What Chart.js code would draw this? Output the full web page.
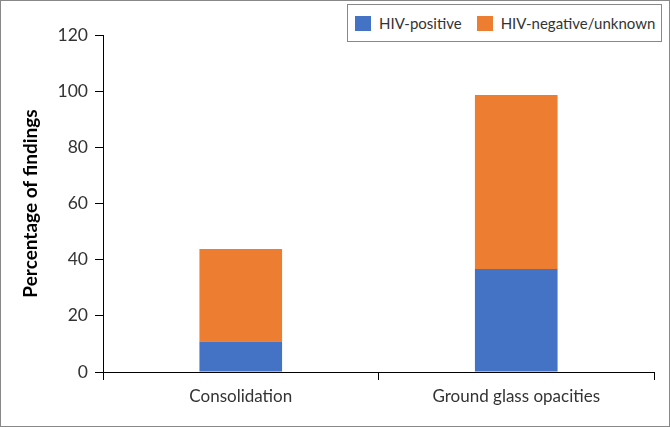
<!DOCTYPE html>
<html>
<head>
<meta charset="utf-8">
<script src="https://cdn.jsdelivr.net/npm/chart.js@4/dist/chart.umd.min.js"></script>
<style>
  body { margin: 0; background: #fff; }
  #wrap { position: relative; width: 670px; height: 427px; }
  #frame { position: absolute; left: 0; top: 0; width: 670px; height: 427px; box-sizing: border-box; border: 1px solid #888; pointer-events: none; }
  #legend { position: absolute; left: 347px; top: 4px; width: 315px; height: 38px; box-sizing: border-box; border: 1px solid #888; background: #fff;
    font-family: Lato, sans-serif; font-size: 15px; color: #333; display: flex; align-items: center; white-space: nowrap; }
  .item { display: flex; align-items: center; white-space: nowrap; flex: none; }
  .sw { width: 16px; height: 15px; display: inline-block; margin-right: 8px; }
</style>
</head>
<body>
<div id="wrap">
  <canvas id="bar-chart" width="670" height="427"></canvas>
  <div id="legend"></div>
  <div id="frame"></div>
</div>
<script>
// data
var categories = ['Consolidation', 'Ground glass opacities'];
var hivPositive = [10.9, 36.7];
var hivNegative = [32.9, 61.9];
var seriesNames = ['HIV-positive', 'HIV-negative/unknown'];
var seriesColours = ['#4472C4', '#ED7D31'];

// legend box (drawn as html so it can sit above the plot like the original)
var legend = document.getElementById('legend');
for (var i = 0; i < seriesNames.length; i++) {
  var item = document.createElement('span');
  item.className = 'item';
  item.style.marginLeft = i == 0 ? '7px' : '15px';
  item.innerHTML = '<span class="sw" style="background:' + seriesColours[i] + '"></span>' + seriesNames[i];
  legend.appendChild(item);
}

new Chart(document.getElementById('bar-chart'), {
  type: 'bar',
  data: {
    labels: categories,
    datasets: [{
      label: seriesNames[0],
      backgroundColor: seriesColours[0],
      data: hivPositive
    }, {
      label: seriesNames[1],
      backgroundColor: seriesColours[1],
      data: hivNegative
    }]
  },
  options: {
    responsive: false,
    animation: false,
    layout: { padding: { top: 35, right: 16, left: 19, bottom: 0 } },
    datasets: { bar: { categoryPercentage: 1, barPercentage: 0.3 } },
    plugins: { legend: { display: false }, tooltip: { enabled: false } },
    scales: {
      x: {
        stacked: true,
        afterFit: function(scale) { scale.height = 55; },
        border: { display: true, color: '#000', width: 1 },
        grid: { display: true, offset: true, drawOnChartArea: false, drawTicks: true, tickLength: 8, color: '#000' },
        ticks: { color: '#333', padding: 6, font: { family: 'Lato', size: 17 } }
      },
      y: {
        stacked: true,
        min: 0,
        max: 120,
        afterFit: function(scale) { scale.width = 84; },
        border: { display: true, color: '#000', width: 1 },
        grid: { display: true, drawOnChartArea: false, drawTicks: true, tickLength: 8, color: '#000' },
        ticks: { stepSize: 20, color: '#333', padding: 7, font: { family: 'Lato', size: 17.5 } },
        title: { display: true, text: 'Percentage of findings', color: '#000', padding: { top: 0, bottom: 8 }, font: { family: 'Lato', size: 19, weight: 'bold' } }
      }
    }
  }
});
</script>
</body>
</html>
